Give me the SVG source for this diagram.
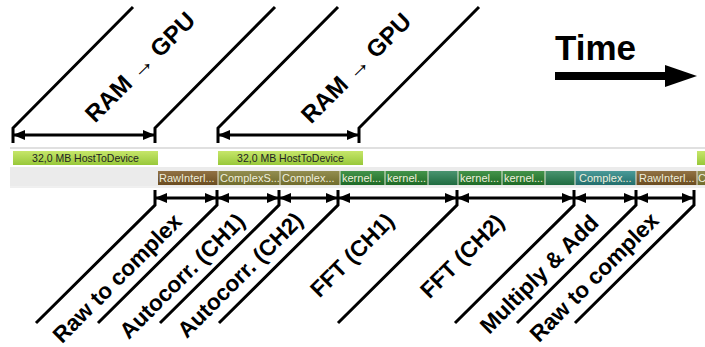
<svg xmlns="http://www.w3.org/2000/svg" width="705" height="347" viewBox="0 0 705 347">
<defs>
<marker id="ah" viewBox="0 0 12 10" refX="12" refY="5" markerWidth="12" markerHeight="10" markerUnits="userSpaceOnUse" orient="auto-start-reverse"><path d="M0,0 L12,5 L0,10 z" fill="#000"/></marker>
<linearGradient id="gH" x1="0" y1="0" x2="0" y2="1"><stop offset="0" stop-color="#c6e66a"/><stop offset="1" stop-color="#98c83a"/></linearGradient>
<linearGradient id="gR" x1="0" y1="0" x2="0" y2="1"><stop offset="0" stop-color="#927244"/><stop offset="1" stop-color="#6a4c20"/></linearGradient>
<linearGradient id="gO" x1="0" y1="0" x2="0" y2="1"><stop offset="0" stop-color="#938e50"/><stop offset="1" stop-color="#706c2c"/></linearGradient>
<linearGradient id="gK" x1="0" y1="0" x2="0" y2="1"><stop offset="0" stop-color="#44944a"/><stop offset="1" stop-color="#1e6a26"/></linearGradient>
<linearGradient id="gB" x1="0" y1="0" x2="0" y2="1"><stop offset="0" stop-color="#4a9470"/><stop offset="1" stop-color="#1f6b40"/></linearGradient>
<linearGradient id="gC" x1="0" y1="0" x2="0" y2="1"><stop offset="0" stop-color="#4a9a98"/><stop offset="1" stop-color="#226e6c"/></linearGradient>
</defs>
<style>
.ln{fill:none;stroke:#000;stroke-width:3;stroke-linejoin:miter}
.ar{fill:none;stroke:#000;stroke-width:3;marker-start:url(#ah);marker-end:url(#ah)}
.lbl{font-family:"Liberation Sans",Arial,sans-serif;font-size:22.5px;font-weight:bold;fill:#000;text-anchor:middle}
.top{font-size:24px}
.bt{font-family:"Liberation Sans",Arial,sans-serif;font-size:10.5px;text-anchor:middle;fill:#222}
.kt{font-family:"Liberation Sans",Arial,sans-serif;font-size:11px;fill:#eeeedd}
.sep{stroke:#e8e8d8;stroke-width:1}
</style>
<rect width="705" height="347" fill="#fff"/>
<g id="timeline">
<line x1="10" y1="148" x2="705" y2="148" stroke="#e0e0e0" stroke-width="2"/>
<rect x="10" y="167" width="695" height="19" fill="#ebebeb"/>
<line x1="10" y1="187" x2="705" y2="187" stroke="#e0e0e0" stroke-width="1"/>
</g>
<g id="h2d">
<rect x="13" y="151" width="145" height="14" fill="url(#gH)"/>
<text class="bt" x="85.5" y="162">32,0 MB HostToDevice</text>
<rect x="218" y="151" width="145" height="14" fill="url(#gH)"/>
<text class="bt" x="290.5" y="162">32,0 MB HostToDevice</text>
<rect x="697" y="151" width="8" height="14" fill="url(#gH)"/>
</g>
<g id="kernels">
<rect x="158" y="171" width="60" height="14" fill="url(#gR)"/>
<text class="kt" x="159" y="182">RawInterl...</text>
<rect x="218" y="171" width="62" height="14" fill="url(#gO)"/>
<text class="kt" x="220" y="182">ComplexS...</text>
<rect x="280" y="171" width="60" height="14" fill="url(#gO)"/>
<text class="kt" x="282" y="182">Complex...</text>
<rect x="340" y="171" width="45" height="14" fill="url(#gK)"/>
<text class="kt" x="342" y="182">kernel...</text>
<rect x="385" y="171" width="43" height="14" fill="url(#gK)"/>
<text class="kt" x="387" y="182">kernel...</text>
<rect x="428" y="171" width="30" height="14" fill="url(#gB)"/>
<rect x="458" y="171" width="44" height="14" fill="url(#gK)"/>
<text class="kt" x="460" y="182">kernel...</text>
<rect x="502" y="171" width="43" height="14" fill="url(#gK)"/>
<text class="kt" x="504" y="182">kernel...</text>
<rect x="545" y="171" width="30" height="14" fill="url(#gB)"/>
<rect x="575" y="171" width="61" height="14" fill="url(#gC)"/>
<text class="kt" x="579" y="182">Complex...</text>
<rect x="636" y="171" width="61" height="14" fill="url(#gR)"/>
<text class="kt" x="639" y="182">RawInterl...</text>
<rect x="697" y="171" width="8" height="14" fill="url(#gO)"/>
<text class="kt" x="698" y="182">C</text>
<g class="sep">
<line x1="218" y1="171" x2="218" y2="185"/><line x1="280" y1="171" x2="280" y2="185"/><line x1="340" y1="171" x2="340" y2="185"/><line x1="385" y1="171" x2="385" y2="185"/><line x1="428" y1="171" x2="428" y2="185"/><line x1="458" y1="171" x2="458" y2="185"/><line x1="502" y1="171" x2="502" y2="185"/><line x1="545" y1="171" x2="545" y2="185"/><line x1="575" y1="171" x2="575" y2="185"/><line x1="636" y1="171" x2="636" y2="185"/><line x1="697" y1="171" x2="697" y2="185"/>
</g>
</g>
<g id="connectors">
<path class="ln" d="M13,143 V128 L133,7"/>
<path class="ln" d="M155,143 V128 L275,7"/>
<path class="ln" d="M218,143 V128 L338,7"/>
<path class="ln" d="M359,143 V128 L479,7"/>
<line class="ar" x1="13" y1="135" x2="155" y2="135"/>
<line class="ar" x1="218" y1="135" x2="359" y2="135"/>
<path class="ln" d="M155,190 V205 L36,323"/>
<path class="ln" d="M217,190 V205 L98,323"/>
<path class="ln" d="M279,190 V205 L160,323"/>
<path class="ln" d="M338,190 V205 L219,323"/>
<path class="ln" d="M457,190 V205 L338,323"/>
<path class="ln" d="M574,190 V205 L455,323"/>
<path class="ln" d="M636,190 V205 L517,323"/>
<path class="ln" d="M694,190 V205 L575,323"/>
<line class="ar" x1="155" y1="198" x2="217" y2="198"/>
<line class="ar" x1="217" y1="198" x2="279" y2="198"/>
<line class="ar" x1="279" y1="198" x2="338" y2="198"/>
<line class="ar" x1="338" y1="198" x2="457" y2="198"/>
<line class="ar" x1="457" y1="198" x2="574" y2="198"/>
<line class="ar" x1="574" y1="198" x2="636" y2="198"/>
<line class="ar" x1="636" y1="198" x2="694" y2="198"/>
</g>
<g id="labels">
<text class="lbl top" transform="translate(140,67) rotate(-45)" dy="0.35em">RAM → GPU</text>
<text class="lbl top" transform="translate(356,68) rotate(-45)" dy="0.35em">RAM → GPU</text>
<text class="lbl" transform="translate(117,278) rotate(-45)" dy="0.35em">Raw to complex</text>
<text class="lbl" transform="translate(182,276) rotate(-45)" dy="0.35em">Autocorr. (CH1)</text>
<text class="lbl" transform="translate(240,275) rotate(-45)" dy="0.35em">Autocorr. (CH2)</text>
<text class="lbl" transform="translate(352,255) rotate(-45)" dy="0.35em">FFT (CH1)</text>
<text class="lbl" transform="translate(462,256) rotate(-45)" dy="0.35em">FFT (CH2)</text>
<text class="lbl" transform="translate(539,274) rotate(-45)" dy="0.35em">Multiply &amp; Add</text>
<text class="lbl" transform="translate(594,277) rotate(-45)" dy="0.35em">Raw to complex</text>
</g>
<g id="time">
<text x="555" y="60" font-family="Liberation Sans,Arial,sans-serif" font-size="35" font-weight="bold">Time</text>
<line x1="555" y1="76" x2="668" y2="76" stroke="#000" stroke-width="8"/>
<polygon points="665,65 697,76 665,87" fill="#000"/>
</g>
</svg>
